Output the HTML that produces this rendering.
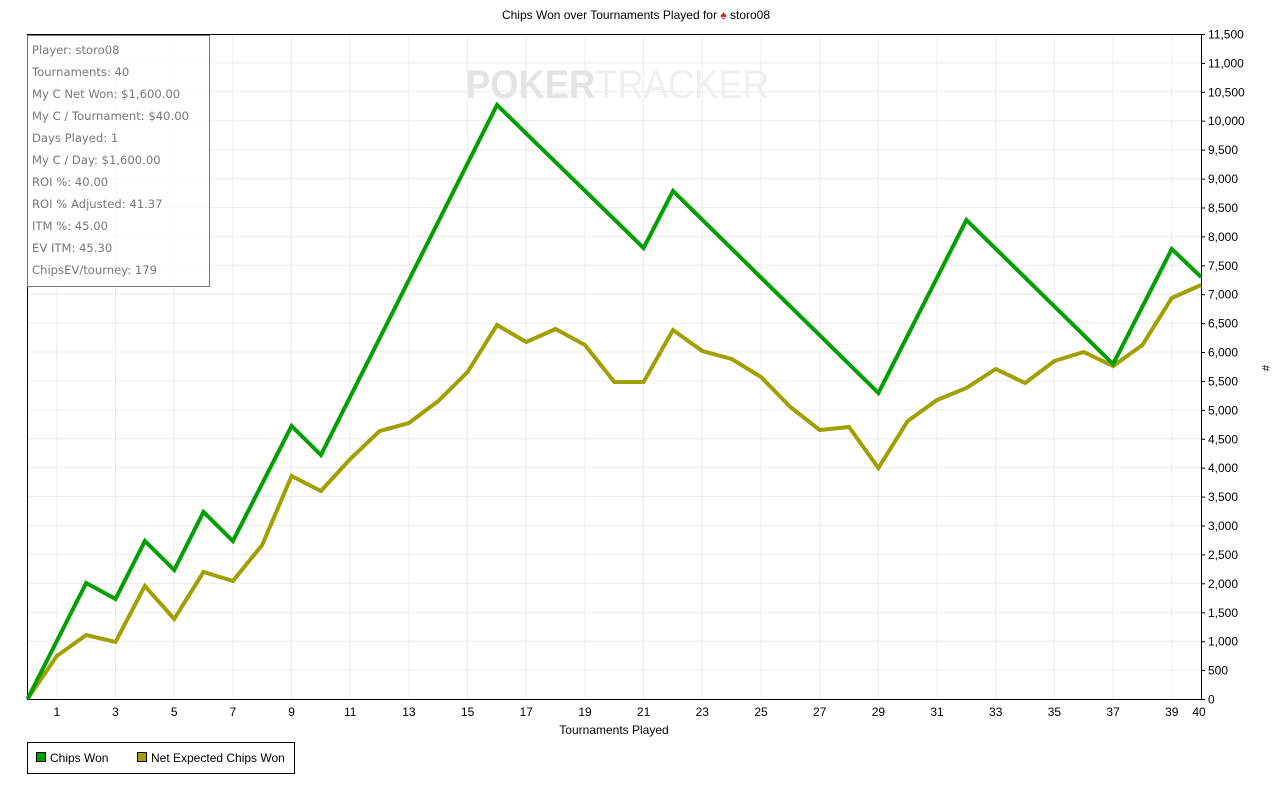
<!DOCTYPE html>
<html><head><meta charset="utf-8"><style>
html,body{margin:0;padding:0;background:#fff;}
svg{display:block;font-family:"Liberation Sans",Arial,sans-serif;}
</style></head><body>
<svg width="1273" height="786" viewBox="0 0 1273 786" xmlns="http://www.w3.org/2000/svg">
<rect width="1273" height="786" fill="#fff"/>
<text x="636" y="19" font-size="12" text-anchor="middle" fill="#000">Chips Won over Tournaments Played for <tspan fill="#d22">♠</tspan> storo08</text>
<g stroke="#ececec" stroke-width="1">
<line x1="56.8" y1="34" x2="56.8" y2="699"/><line x1="115.5" y1="34" x2="115.5" y2="699"/><line x1="174.2" y1="34" x2="174.2" y2="699"/><line x1="232.9" y1="34" x2="232.9" y2="699"/><line x1="291.6" y1="34" x2="291.6" y2="699"/><line x1="350.2" y1="34" x2="350.2" y2="699"/><line x1="408.9" y1="34" x2="408.9" y2="699"/><line x1="467.6" y1="34" x2="467.6" y2="699"/><line x1="526.3" y1="34" x2="526.3" y2="699"/><line x1="585" y1="34" x2="585" y2="699"/><line x1="643.6" y1="34" x2="643.6" y2="699"/><line x1="702.3" y1="34" x2="702.3" y2="699"/><line x1="761" y1="34" x2="761" y2="699"/><line x1="819.7" y1="34" x2="819.7" y2="699"/><line x1="878.4" y1="34" x2="878.4" y2="699"/><line x1="937" y1="34" x2="937" y2="699"/><line x1="995.7" y1="34" x2="995.7" y2="699"/><line x1="1054.4" y1="34" x2="1054.4" y2="699"/><line x1="1113.1" y1="34" x2="1113.1" y2="699"/><line x1="1171.8" y1="34" x2="1171.8" y2="699"/>
<line x1="27" y1="670.1" x2="1201" y2="670.1"/><line x1="27" y1="641.2" x2="1201" y2="641.2"/><line x1="27" y1="612.3" x2="1201" y2="612.3"/><line x1="27" y1="583.3" x2="1201" y2="583.3"/><line x1="27" y1="554.4" x2="1201" y2="554.4"/><line x1="27" y1="525.5" x2="1201" y2="525.5"/><line x1="27" y1="496.6" x2="1201" y2="496.6"/><line x1="27" y1="467.7" x2="1201" y2="467.7"/><line x1="27" y1="438.8" x2="1201" y2="438.8"/><line x1="27" y1="409.9" x2="1201" y2="409.9"/><line x1="27" y1="381" x2="1201" y2="381"/><line x1="27" y1="352" x2="1201" y2="352"/><line x1="27" y1="323.1" x2="1201" y2="323.1"/><line x1="27" y1="294.2" x2="1201" y2="294.2"/><line x1="27" y1="265.3" x2="1201" y2="265.3"/><line x1="27" y1="236.4" x2="1201" y2="236.4"/><line x1="27" y1="207.5" x2="1201" y2="207.5"/><line x1="27" y1="178.6" x2="1201" y2="178.6"/><line x1="27" y1="149.7" x2="1201" y2="149.7"/><line x1="27" y1="120.7" x2="1201" y2="120.7"/><line x1="27" y1="91.8" x2="1201" y2="91.8"/><line x1="27" y1="62.9" x2="1201" y2="62.9"/>
</g>
<text x="466" y="98" font-size="40" font-weight="bold" fill="#e4e4e4" textLength="303" lengthAdjust="spacingAndGlyphs">POKER<tspan font-weight="normal" fill="#efefef">TRACKER</tspan></text>
<g stroke="#000" stroke-width="1" fill="none">
<line x1="27.5" y1="34.5" x2="1201.5" y2="34.5"/>
<line x1="27.5" y1="34" x2="27.5" y2="699.5"/>
<line x1="27" y1="699.5" x2="1201.5" y2="699.5"/>
<line x1="1201.5" y1="34" x2="1201.5" y2="700"/>
</g>
<g stroke="#000" stroke-width="1">
<line x1="1201" y1="699.5" x2="1205" y2="699.5"/><line x1="1201" y1="670.6" x2="1205" y2="670.6"/><line x1="1201" y1="641.7" x2="1205" y2="641.7"/><line x1="1201" y1="612.8" x2="1205" y2="612.8"/><line x1="1201" y1="583.8" x2="1205" y2="583.8"/><line x1="1201" y1="554.9" x2="1205" y2="554.9"/><line x1="1201" y1="526" x2="1205" y2="526"/><line x1="1201" y1="497.1" x2="1205" y2="497.1"/><line x1="1201" y1="468.2" x2="1205" y2="468.2"/><line x1="1201" y1="439.3" x2="1205" y2="439.3"/><line x1="1201" y1="410.4" x2="1205" y2="410.4"/><line x1="1201" y1="381.5" x2="1205" y2="381.5"/><line x1="1201" y1="352.5" x2="1205" y2="352.5"/><line x1="1201" y1="323.6" x2="1205" y2="323.6"/><line x1="1201" y1="294.7" x2="1205" y2="294.7"/><line x1="1201" y1="265.8" x2="1205" y2="265.8"/><line x1="1201" y1="236.9" x2="1205" y2="236.9"/><line x1="1201" y1="208" x2="1205" y2="208"/><line x1="1201" y1="179.1" x2="1205" y2="179.1"/><line x1="1201" y1="150.2" x2="1205" y2="150.2"/><line x1="1201" y1="121.2" x2="1205" y2="121.2"/><line x1="1201" y1="92.3" x2="1205" y2="92.3"/><line x1="1201" y1="63.4" x2="1205" y2="63.4"/><line x1="1201" y1="34.5" x2="1205" y2="34.5"/>
</g>
<g font-size="12" fill="#000">
<text x="1208" y="703.5">0</text><text x="1208" y="674.6">500</text><text x="1208" y="645.7">1,000</text><text x="1208" y="616.8">1,500</text><text x="1208" y="587.8">2,000</text><text x="1208" y="558.9">2,500</text><text x="1208" y="530">3,000</text><text x="1208" y="501.1">3,500</text><text x="1208" y="472.2">4,000</text><text x="1208" y="443.3">4,500</text><text x="1208" y="414.4">5,000</text><text x="1208" y="385.5">5,500</text><text x="1208" y="356.5">6,000</text><text x="1208" y="327.6">6,500</text><text x="1208" y="298.7">7,000</text><text x="1208" y="269.8">7,500</text><text x="1208" y="240.9">8,000</text><text x="1208" y="212">8,500</text><text x="1208" y="183.1">9,000</text><text x="1208" y="154.2">9,500</text><text x="1208" y="125.2">10,000</text><text x="1208" y="96.3">10,500</text><text x="1208" y="67.4">11,000</text><text x="1208" y="38.5">11,500</text>
<text x="1262" y="368" font-size="11" transform="rotate(90 1262 368)" text-anchor="middle">#</text>
</g>
<g font-size="12" fill="#000" text-anchor="middle">
<text x="56.8" y="716">1</text><text x="115.5" y="716">3</text><text x="174.2" y="716">5</text><text x="232.9" y="716">7</text><text x="291.6" y="716">9</text><text x="350.2" y="716">11</text><text x="408.9" y="716">13</text><text x="467.6" y="716">15</text><text x="526.3" y="716">17</text><text x="585" y="716">19</text><text x="643.6" y="716">21</text><text x="702.3" y="716">23</text><text x="761" y="716">25</text><text x="819.7" y="716">27</text><text x="878.4" y="716">29</text><text x="937" y="716">31</text><text x="995.7" y="716">33</text><text x="1054.4" y="716">35</text><text x="1113.1" y="716">37</text><text x="1171.8" y="716">39</text><text x="1199" y="716">40</text>
<text x="614" y="734">Tournaments Played</text>
</g>
<polyline fill="none" stroke="#a0a000" stroke-width="4" stroke-linejoin="miter" points="27.5,699 56.8,656 86.2,635 115.5,642 144.9,586 174.2,619 203.5,572 232.9,581 262.2,545 291.6,476 320.9,491 350.2,459 379.6,431 408.9,423 438.3,401 467.6,372 497,325 526.3,342 555.6,329 585,345 614.3,382 643.6,382 673,330 702.3,351 731.7,359 761,377 790.3,407 819.7,430 849,427 878.4,468 907.7,421 937,400 966.4,388 995.7,369 1025.1,383 1054.4,361 1083.7,352 1113.1,366 1142.4,345 1171.8,298 1201.1,285"/>
<polyline fill="none" stroke="#00a000" stroke-width="4" stroke-linejoin="miter" points="27.5,699 86.2,583 115.5,599 144.9,541 174.2,570 203.5,512 232.9,541 291.6,426 320.9,455 497,105 643.6,248 673,191 878.4,393 966.4,220 1113.1,364 1171.8,249 1201.1,277"/>
<rect x="27.5" y="35.5" width="182" height="251" fill="#fff" fill-opacity="0.75" stroke="#777" stroke-width="1"/>
<g font-size="11.6" fill="#777" font-family="'DejaVu Sans',sans-serif">
<text x="32" y="54">Player: storo08</text>
<text x="32" y="76">Tournaments: 40</text>
<text x="32" y="98">My C Net Won: $1,600.00</text>
<text x="32" y="120">My C / Tournament: $40.00</text>
<text x="32" y="142">Days Played: 1</text>
<text x="32" y="164">My C / Day: $1,600.00</text>
<text x="32" y="186">ROI %: 40.00</text>
<text x="32" y="208">ROI % Adjusted: 41.37</text>
<text x="32" y="230">ITM %: 45.00</text>
<text x="32" y="252">EV ITM: 45.30</text>
<text x="32" y="274">ChipsEV/tourney: 179</text>
</g>
<rect x="27.5" y="742.5" width="267" height="31" fill="#fff" stroke="#000"/>
<rect x="36.5" y="752.5" width="9" height="9" fill="#00a000" stroke="#000"/>
<text x="50" y="762" font-size="12">Chips Won</text>
<rect x="137.5" y="752.5" width="9" height="9" fill="#a0a000" stroke="#000"/>
<text x="151" y="762" font-size="12">Net Expected Chips Won</text>
</svg>
</body></html>
